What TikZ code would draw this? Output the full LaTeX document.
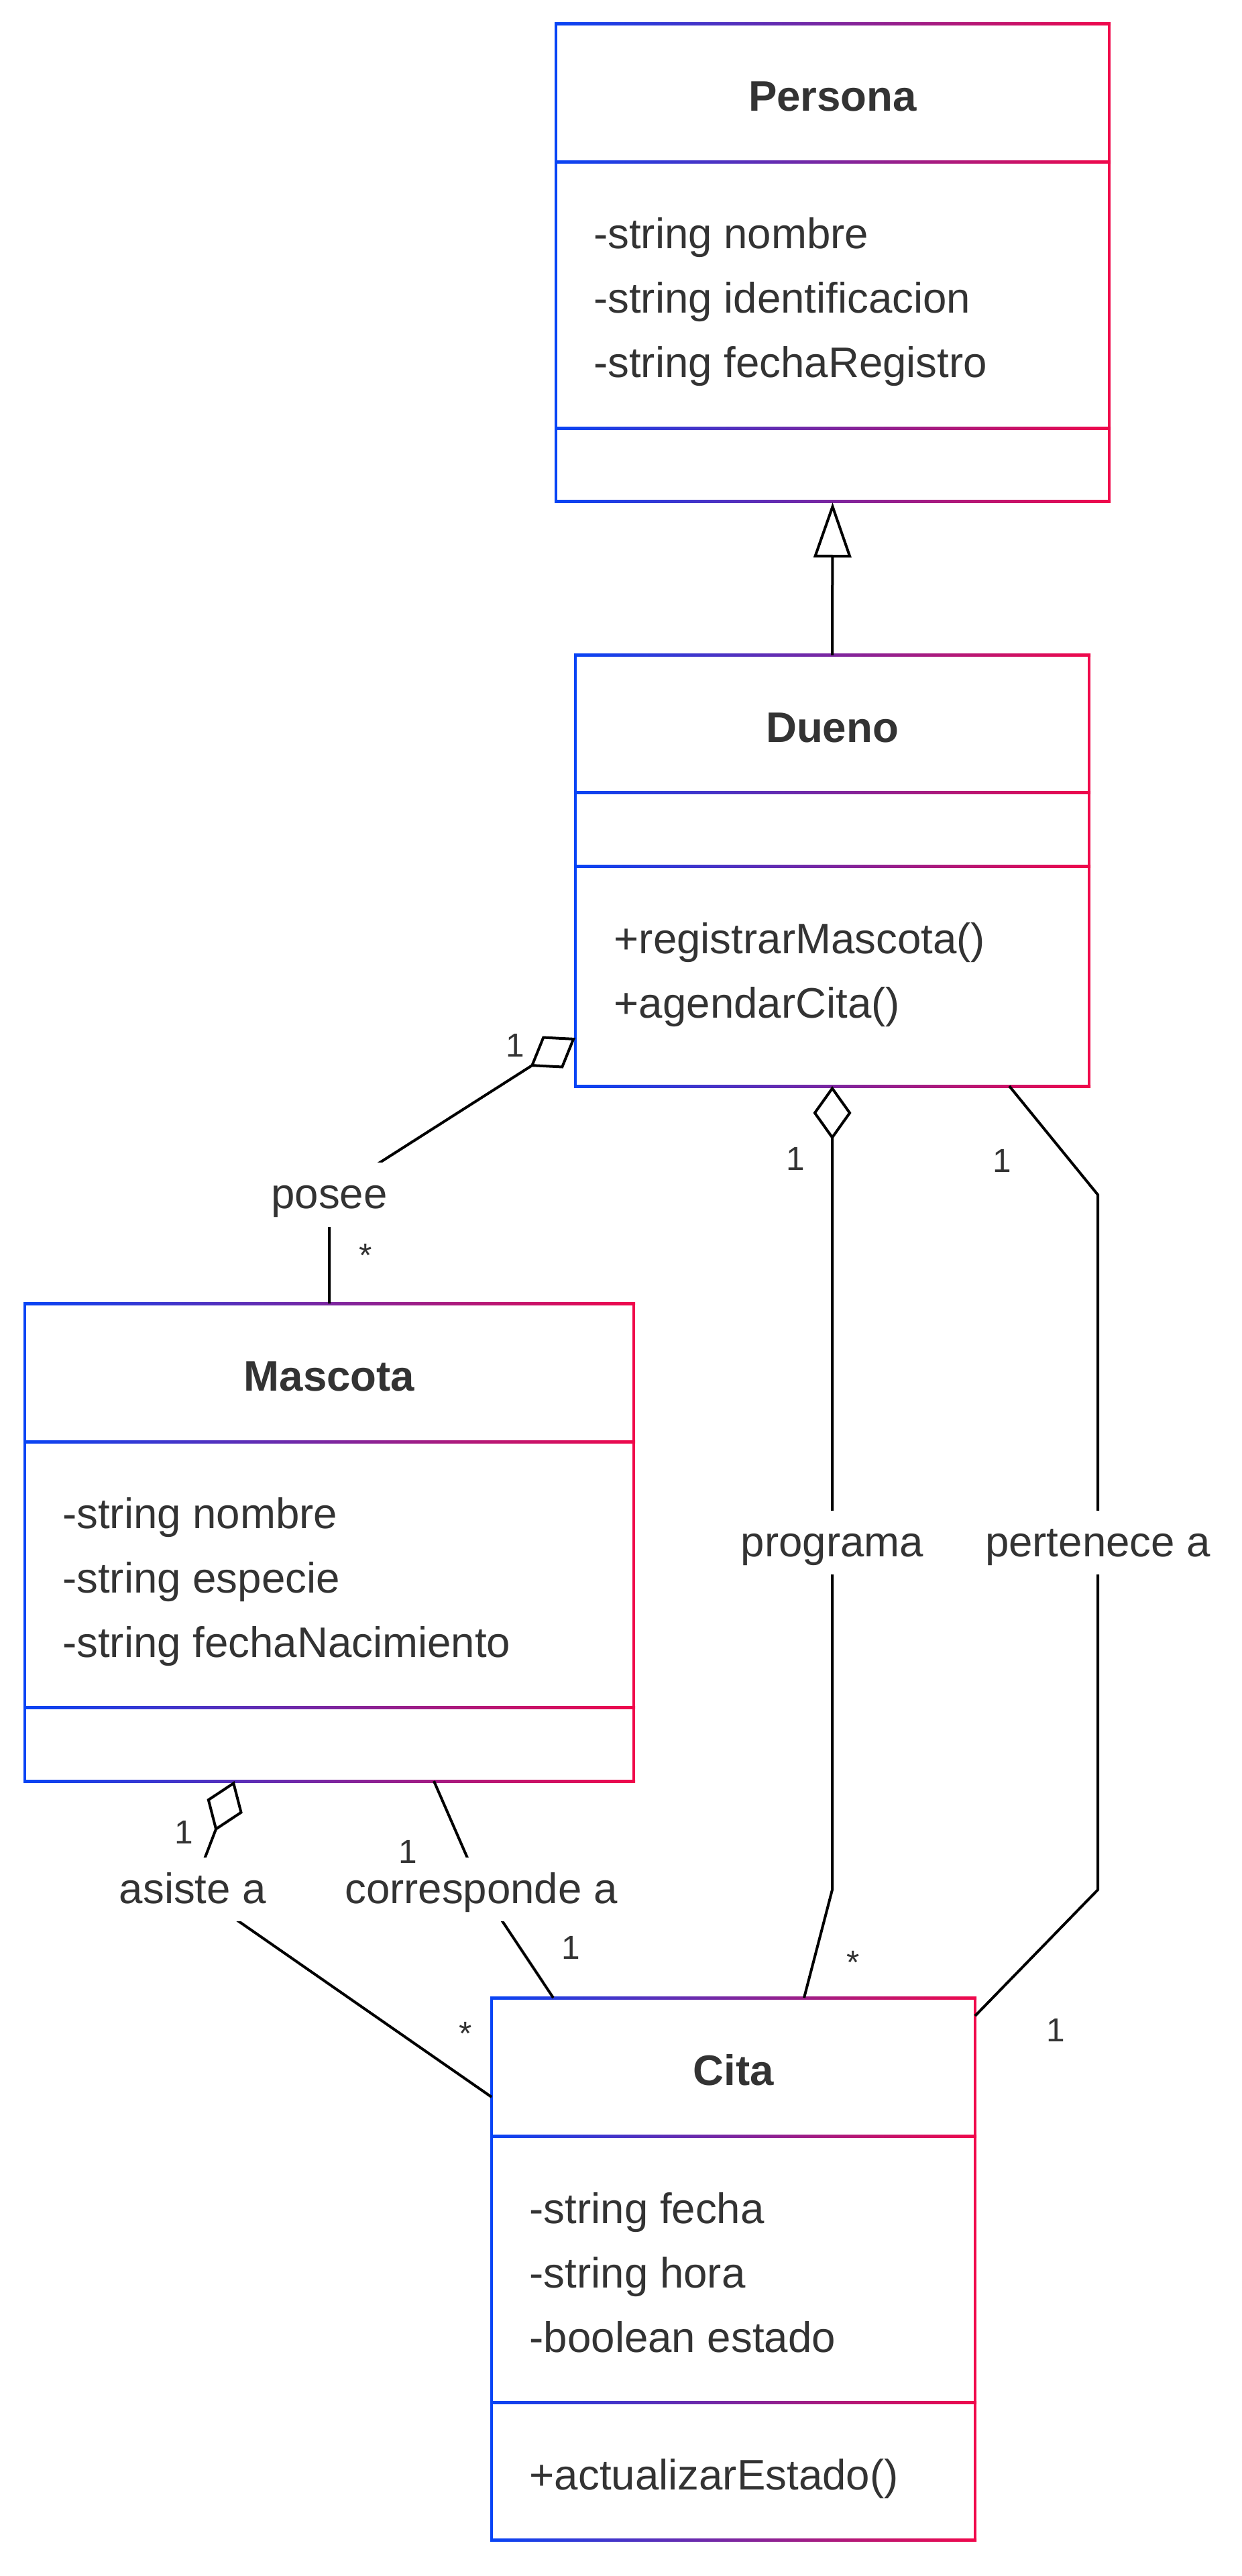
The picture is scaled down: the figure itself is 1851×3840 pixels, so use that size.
\documentclass[tikz,border=0pt]{standalone}
\usepackage{fontspec}
\setmainfont{Liberation Sans}
\usetikzlibrary{arrows.meta,fit,calc}
\definecolor{cblue}{RGB}{8,68,245}
\definecolor{cred}{RGB}{240,8,75}
\definecolor{ctext}{RGB}{51,51,51}

\newcommand{\umlframe}[7]{% name L T R B H1 H2
  \coordinate (#1-nw) at (#2,#3);
  \coordinate (#1-se) at (#4,#5);
  \node[inner sep=0pt, outer sep=0pt, fit=(#1-nw)(#1-se)] (#1) {};
  \foreach \yy in {#3,#6,#7,#5}{
    \shade[left color=cblue, right color=cred] ({#2-2},{\yy-2}) rectangle ({#4+2},{\yy+2});
  }
  \fill[cblue] ({#2-2},{#3-2}) rectangle ({#2+2},{#5+2});
  \fill[cred] ({#4-2},{#3-2}) rectangle ({#4+2},{#5+2});
}

\tikzset{
  ttl/.style={font=\bfseries\fontsize{15.9pt}{19pt}\selectfont, text=ctext, inner sep=0pt, anchor=base},
  attr/.style={font=\fontsize{15.9pt}{19pt}\selectfont, text=ctext, inner sep=0pt, anchor=base west},
  lbl/.style={font=\fontsize{15.9pt}{19pt}\selectfont, text=ctext, fill=white, inner xsep=0.5pt, inner ysep=0pt, text height=12.72pt, text depth=2.39pt, minimum height=23.9pt},
  mult/.style={font=\fontsize{12.4pt}{14pt}\selectfont, text=ctext, inner sep=0pt, text height=8.88pt, text depth=0pt},
  conn/.style={draw=black, line width=1pt, line join=miter},
  agg/.style={conn, {Diamond[open,length=20pt,width=14.25pt]}-},
  inh/.style={conn, -{Triangle[open,length=20.5pt,width=14pt]}},
}

\begin{document}
\begin{tikzpicture}[x=0.25pt, y=-0.25pt]
\useasboundingbox (0,0) rectangle (1851,3840);
\fill[white] (0,0) rectangle (1851,3840);

% class frames
\umlframe{persona}{829}{36}{1654}{747}{241.5}{638.5}
\umlframe{dueno}{858}{976.5}{1624}{1619}{1181.5}{1291.5}
\umlframe{mascota}{37}{1943}{945}{2655}{2149}{2545.5}
\umlframe{cita}{733}{2978}{1454}{3786}{3184.5}{3581.5}

% Persona texts
\node[ttl] (persona-t) at (1241.5,166) {Persona};
\node[attr] (persona-a1) at (884.5,371) {-string nombre};
\node[attr] (persona-a2) at (884.5,467) {-string identificacion};
\node[attr] (persona-a3) at (884.5,563) {-string fechaRegistro};

% Dueno texts
\node[ttl] (dueno-t) at (1241,1106.5) {Dueno};
\node[attr] (dueno-m1) at (915,1421) {+registrarMascota()};
\node[attr] (dueno-m2) at (915,1517) {+agendarCita()};

% Mascota texts
\node[ttl] (mascota-t) at (491,2073.5) {Mascota};
\node[attr] (mascota-a1) at (92.5,2278.5) {-string nombre};
\node[attr] (mascota-a2) at (92.5,2374.5) {-string especie};
\node[attr] (mascota-a3) at (92.5,2470.5) {-string fechaNacimiento};

% Cita texts
\node[ttl] (cita-t) at (1093.5,3108.5) {Cita};
\node[attr] (cita-a1) at (789,3314.5) {-string fecha};
\node[attr] (cita-a2) at (789,3410.5) {-string hora};
\node[attr] (cita-a3) at (789,3506.5) {-boolean estado};
\node[attr] (cita-m1) at (789,3711) {+actualizarEstado()};

% inheritance
\draw[inh] (dueno.north) -- ($(persona.south)+(0,2)$);

% posee
\draw[agg] (dueno.west |- 0,1547) -- (mascota.north |- 0,1781) node[lbl] (l-posee) {posee} -- (mascota.north);

% programa
\draw[agg] (dueno.south) -- (dueno.south |- 0,2299.5) node[lbl] (l-prog) {programa} -- (dueno.south |- 0,2817) -- (cita.north -| 1199,0);

% pertenece a
\draw[conn] (dueno.south -| 1505,0) -- (1637,1781) -- (1637,2299.5) node[lbl] (l-pert) {pertenece a} -- (1637,2817) -- (cita.east |- 0,3005);

% asiste a
\draw[agg] (mascota.south -| 349.5,0) -- (287.5,2816.5) node[lbl] (l-asis) {asiste a} -- (cita.west |- 0,3126);

% corresponde a
\draw[conn] (mascota.south -| 647,0) -- (717.5,2816.5) node[lbl] (l-corr) {corresponde a} -- (cita.north -| 825,0);

% multiplicities
\node[mult] (m1) at (768.5,1558) {1};
\node[mult] (m2) at (545,1870.5) {*};
\node[mult] (m3) at (1186,1726.5) {1};
\node[mult] (m4) at (1272,2925) {*};
\node[mult] (m5) at (1494,1730) {1};
\node[mult] (m6) at (1574,3025.5) {1};
\node[mult] (m7) at (274,2731) {1};
\node[mult] (m8) at (694,3031) {*};
\node[mult] (m9) at (608,2760) {1};
\node[mult] (m10) at (851,2902.5) {1};
\end{tikzpicture}
\end{document}
